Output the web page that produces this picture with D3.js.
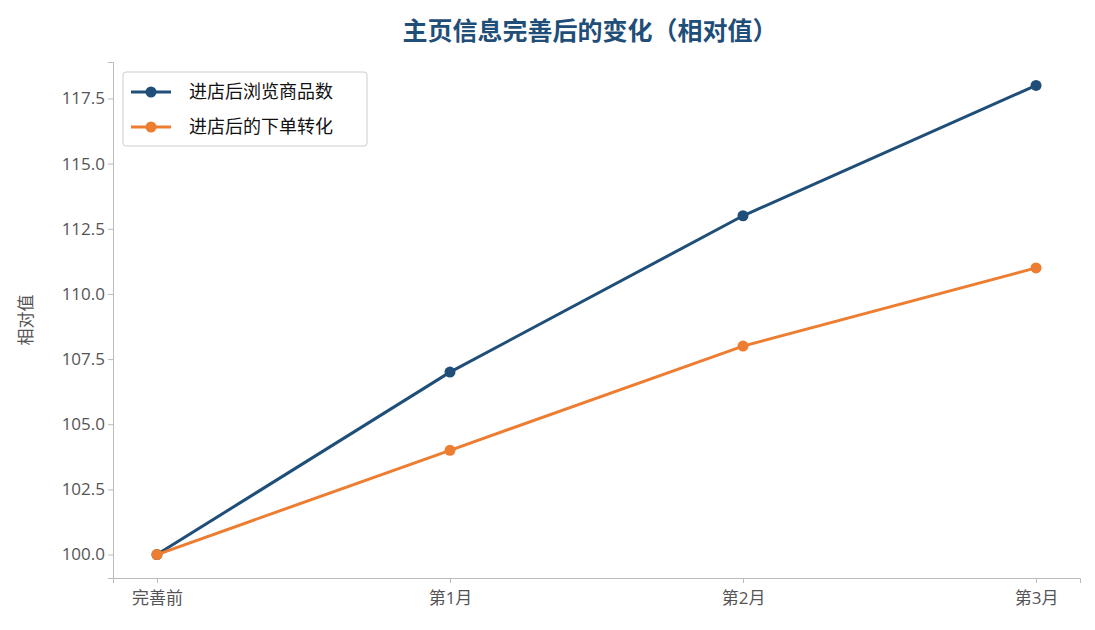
<!DOCTYPE html>
<html><head><meta charset="utf-8">
<script src="https://cdn.jsdelivr.net/npm/d3@7"></script>
<style>body{margin:0;background:#fff;font-family:"Open Sans","Noto Sans CJK SC",sans-serif;}</style>
</head><body>
<svg id="chart" width="1095" height="630"></svg>
<script>
const categories = ["完善前", "第1月", "第2月", "第3月"];
const browseValues = [100, 107, 113, 118];
const orderValues = [100, 104, 108, 111];
const yTicks = [100, 102.5, 105, 107.5, 110, 112.5, 115, 117.5];
const seriesNames = ["进店后浏览商品数", "进店后的下单转化"];
const colors = ["#1f4e79", "#ed7d31"];

const svg = d3.select("#chart");
const margin = {top: 62, right: 15, bottom: 52, left: 113};
const width = 1095, height = 630;
const fontStack = '"Open Sans", "Noto Sans CJK SC", sans-serif';

const x = d3.scaleLinear().domain([-0.15, 3.15]).range([margin.left, width - margin.right]);
const y = d3.scaleLinear().domain([99.1, 118.9]).range([height - margin.bottom, margin.top]);

const xAxis = svg.append("g")
    .attr("transform", `translate(0, ${height - margin.bottom})`)
    .call(d3.axisBottom(x).tickValues([0, 1, 2, 3]).tickFormat(i => categories[i]).tickSizeOuter(0).tickSize(5));
const yAxis = svg.append("g")
    .attr("transform", `translate(${margin.left}, 0)`)
    .call(d3.axisLeft(y).tickValues(yTicks).tickFormat(d3.format(".1f")).tickSizeOuter(0).tickSize(5));

[xAxis, yAxis].forEach(g => {
    g.select(".domain").attr("stroke", "#bbb");
    g.selectAll(".tick line").attr("stroke", "#bbb");
    g.selectAll(".tick text").attr("fill", "#555").style("font-size", "17px")
        .style("font-family", fontStack);
});
xAxis.selectAll(".tick text").attr("dy", "1.05em");

svg.append("text")
    .attr("transform", "rotate(-90)")
    .attr("x", -(margin.top + (height - margin.bottom)) / 2)
    .attr("y", 32)
    .attr("text-anchor", "middle")
    .attr("fill", "#555")
    .style("font-size", "17px")
    .text("相对值");

svg.append("text")
    .attr("x", 590).attr("y", 40)
    .attr("text-anchor", "middle")
    .attr("fill", "#1f4e79")
    .style("font-size", "25px").style("font-weight", "bold")
    .text("主页信息完善后的变化（相对值）");

const line = d3.line().x((d, i) => x(i)).y(d => y(d));
[browseValues, orderValues].forEach((vals, k) => {
    svg.append("path").datum(vals)
        .attr("fill", "none").attr("stroke", colors[k]).attr("stroke-width", 3)
        .attr("d", line);
    svg.selectAll(null).data(vals).enter().append("circle")
        .attr("cx", (d, i) => x(i)).attr("cy", d => y(d)).attr("r", 5.5)
        .attr("fill", colors[k]);
});

// Legend
const lg = svg.append("g").attr("transform", "translate(123, 72)");
lg.append("rect").attr("width", 244).attr("height", 74).attr("rx", 3)
    .attr("fill", "#fff").attr("stroke", "#ccc");
seriesNames.forEach((name, k) => {
    const yy = 20 + k * 35;
    lg.append("line").attr("x1", 8).attr("x2", 48).attr("y1", yy).attr("y2", yy)
        .attr("stroke", colors[k]).attr("stroke-width", 3);
    lg.append("circle").attr("cx", 28).attr("cy", yy).attr("r", 5.5).attr("fill", colors[k]);
    lg.append("text").attr("x", 66).attr("y", yy + 6).attr("fill", "#111")
        .style("font-size", "18px").text(name);
});
</script>
</body></html>
